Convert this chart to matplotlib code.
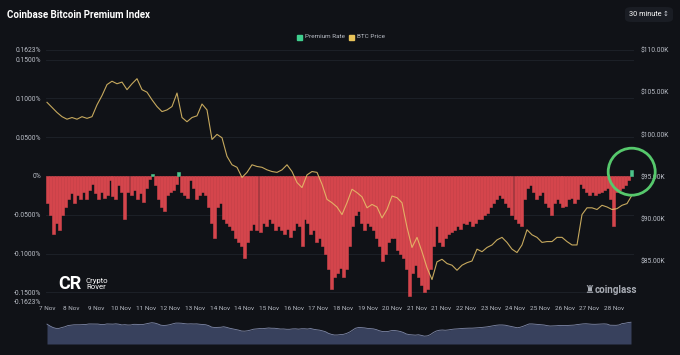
import numpy as np
import matplotlib
matplotlib.use('Agg')
import matplotlib.pyplot as plt
from matplotlib.patches import Ellipse, FancyBboxPatch

plt.rcParams['font.family'] = ['Roboto', 'DejaVu Sans']

# coinbase premium rate (%), 30 minute bars, 7 Nov -> 28 Nov
premium = [
    -0.035, -0.05, -0.075, -0.06, -0.07, -0.05, -0.04, -0.03, -0.022, -0.035,
    -0.025, -0.03, -0.02, -0.03, -0.018,
    -0.01, -0.022, -0.03, -0.02, -0.028, -0.024, -0.005, -0.026, -0.03, -0.012,
    -0.02, -0.055, -0.02, -0.025, -0.018, -0.03, -0.022, -0.034, -0.015, -0.004,
    0.003, -0.012, -0.03, -0.04, -0.045, -0.025, -0.02, -0.018, -0.01, 0.005,
    -0.02, -0.025, -0.028,
    -0.005, -0.015, -0.03, -0.025, -0.02, -0.025, -0.04, -0.06, -0.08, -0.04,
    -0.035, -0.055, -0.06, -0.065, -0.07, -0.08, -0.085, -0.09, -0.105, -0.085,
    -0.07, -0.062, -0.07, -0.072, -0.06, -0.064, -0.055, -0.06, -0.07, -0.065,
    -0.07, -0.075, -0.068, -0.078, -0.07, -0.06, -0.065, -0.09, -0.055, -0.06,
    -0.075, -0.07, -0.085, -0.08, -0.09, -0.1, -0.12, -0.145, -0.13,
    -0.125, -0.118, -0.13, -0.12, -0.09, -0.065, -0.05, -0.045, -0.06, -0.07,
    -0.06, -0.065, -0.07, -0.08, -0.09, -0.11, -0.1, -0.085, -0.08, -0.08,
    -0.095, -0.1, -0.105, -0.12, -0.155, -0.125, -0.115, -0.13, -0.14, -0.15,
    -0.145, -0.12, -0.09, -0.065, -0.085, -0.09, -0.08, -0.075, -0.072, -0.07,
    -0.065, -0.068, -0.06, -0.062, -0.058, -0.065, -0.06, -0.055,
    -0.055, -0.05, -0.048, -0.04, -0.035, -0.03, -0.025, -0.028, -0.035, -0.04,
    -0.05, -0.055, -0.06, -0.065, -0.03, -0.015, -0.012, -0.02, -0.03, -0.025,
    -0.02, -0.035, -0.04, -0.05, -0.035, -0.03, -0.035, -0.04, -0.038, -0.03,
    -0.028, -0.035, -0.03, -0.01, -0.015, -0.02, -0.025, -0.02, -0.025, -0.022,
    -0.02, -0.018, -0.015, -0.03, -0.065, -0.02, -0.018, -0.015, -0.012, -0.005,
    0.008,
]

# BTC price, thousands of USD
price = [
    103.8, 103.2, 102.6, 102.1, 101.8, 102.0, 101.8, 102.1, 101.9, 102.1,
    103.5, 104.6, 105.9, 106.3, 106.0, 106.2, 105.3, 106.0, 106.6, 105.3,
    105.0, 104.1, 103.3, 102.7, 102.9, 103.3, 104.9, 102.0, 101.5, 102.0,
    102.2, 103.6, 102.9, 99.4, 100.0, 99.6, 97.4, 96.4, 96.1, 94.9,
    95.5, 96.4, 96.2, 96.1, 95.8, 95.6, 95.5, 95.8, 96.4, 95.6,
    94.3, 93.7, 95.2, 95.6, 95.5, 94.1, 92.3, 91.9, 91.4, 90.5,
    91.9, 93.5, 93.1, 92.6, 91.3, 91.7, 91.4, 90.1, 91.1, 92.7,
    92.5, 91.9, 89.0, 86.6, 87.8, 86.1, 84.2, 82.8, 84.9, 85.2,
    84.7, 84.5, 83.9, 84.5, 84.8, 85.0, 86.4, 86.1, 86.6, 86.9,
    87.5, 87.8, 87.2, 86.4, 86.0, 86.9, 88.7, 88.1, 87.8, 87.2,
    87.3, 87.3, 87.8, 87.8, 87.3, 86.9, 86.9, 90.5, 91.3, 91.3,
    91.1, 91.6, 91.4, 91.1, 91.2, 91.6, 91.8, 92.8,
]

day_labels = ['7 Nov', '8 Nov', '9 Nov', '10 Nov', '11 Nov', '12 Nov', '13 Nov',
              '14 Nov', '14 Nov', '15 Nov', '16 Nov', '17 Nov', '18 Nov', '19 Nov',
              '20 Nov', '21 Nov', '21 Nov', '22 Nov', '23 Nov', '24 Nov', '25 Nov',
              '26 Nov', '27 Nov', '28 Nov']
rate_ticks = [0.1623, 0.15, 0.1, 0.05, 0, -0.05, -0.1, -0.15, -0.1623]
price_ticks = [85, 90, 95, 100, 105, 110]

bg = '#101217'
txt = '#b9bdc6'
red = '#d4454c'
green = '#4cc38a'
gold = '#e6c36a'

fig = plt.figure(figsize=(6.8, 3.55), dpi=100, facecolor=bg)
ax = fig.add_axes([45.5/680, 1-302/355, 588/680, 252/355])
ax.set_facecolor(bg)

prem = np.array(premium)
xs = np.arange(len(prem))
cols = [green if v > 0 else red for v in prem]
ax.bar(xs, prem, width=1.0, color=cols, edgecolor=cols, linewidth=0.4, zorder=2)
ax.set_xlim(-0.5, len(prem) - 0.5)
ax.set_ylim(-0.1623, 0.1623)
ax.set_yticks(rate_ticks)
ax.set_yticklabels(['0%' if v == 0 else f'{v:.4f}%' for v in rate_ticks])
tick_step = 8.22
ax.set_xticks(np.arange(len(day_labels)) * tick_step)
ax.set_xticklabels(day_labels)
ax.tick_params(axis='x', length=0, labelsize=4.6, colors=txt, pad=3)
ax.tick_params(axis='y', length=0, labelsize=4.9, colors=txt, pad=3)
ax.grid(axis='y', color='#1f232b', lw=0.6, zorder=0)
for s in ax.spines.values():
    s.set_visible(False)

ax2 = ax.twinx()
px = np.linspace(0, len(prem) - 1, len(price))
ax2.plot(px, price, color=gold, lw=0.8, alpha=0.85, zorder=3)
ax2.set_ylim(80.14, 110)
ax2.set_yticks(price_ticks)
ax2.set_yticklabels([f'${v:.2f}K' for v in price_ticks])
ax2.tick_params(length=0, labelsize=4.9, colors=txt, pad=5)
for s in ax2.spines.values():
    s.set_visible(False)

# navigator strip
nav = fig.add_axes([45.5/680, 1-344/355, 590/680, 32/355])
nav.set_facecolor('#141821')
smooth = np.convolve(prem, np.ones(4) / 4, mode='same')
nav.fill_between(xs, -0.22, smooth, color='#38415d', lw=0)
nav.plot(xs, smooth, color='#7f88a8', lw=0.6)
nav.set_xlim(-0.5, len(prem) + 0.5)
nav.set_ylim(-0.22, 0.10)
nav.axis('off')

# titles, legend, button
fig.text(7/680, 1-15/355, 'Coinbase Bitcoin Premium Index', color='white',
         fontsize=7.0, fontweight='bold', va='center')
fig.patches.append(FancyBboxPatch((625/680, 1-22/355), 48/680, 15/355,
                                  boxstyle='round,pad=0,rounding_size=0.01',
                                  transform=fig.transFigure, facecolor='#1a1d24',
                                  edgecolor='none'))
fig.text(629/680, 1-14.5/355, '30 minute', color='white', fontsize=5.3, va='center')
fig.text(663/680, 1-14.5/355, '↕', color='#c8ccd4', fontsize=5, va='center')

fig.patches.append(plt.Rectangle((297/680, 1-39.5/355), 5/680, 5/355,
                                 transform=fig.transFigure, color='#3fcf8e'))
fig.text(305/680, 1-37/355, 'Premium Rate', color=txt, fontsize=4.6, va='center')
fig.patches.append(plt.Rectangle((349/680, 1-39.5/355), 5/680, 5/355,
                                 transform=fig.transFigure, color='#e8c35a'))
fig.text(357/680, 1-37/355, 'BTC Price', color=txt, fontsize=4.6, va='center')

# watermarks
fig.text(58/680, 1-284/355, 'CR', color='white', fontsize=13, fontweight='bold',
         va='center')
fig.text(86/680, 1-284/355, 'Crypto\nRover', color='white', fontsize=5.6,
         va='center', linespacing=1.0)
fig.text(584/680, 1-290/355, '♜', color='#a8acb4', fontsize=8, va='center')
fig.text(595/680, 1-290/355, 'coinglass', color='#a8acb4', fontsize=7,
         fontweight='bold', va='center')

# highlight circle
fig.patches.append(Ellipse((631.7/680, 1-171.7/355), 47/680, 47/355,
                           transform=fig.transFigure, fill=False,
                           edgecolor='#56c86c', lw=2.0))

fig.savefig('out.png', dpi=100, facecolor=bg)
